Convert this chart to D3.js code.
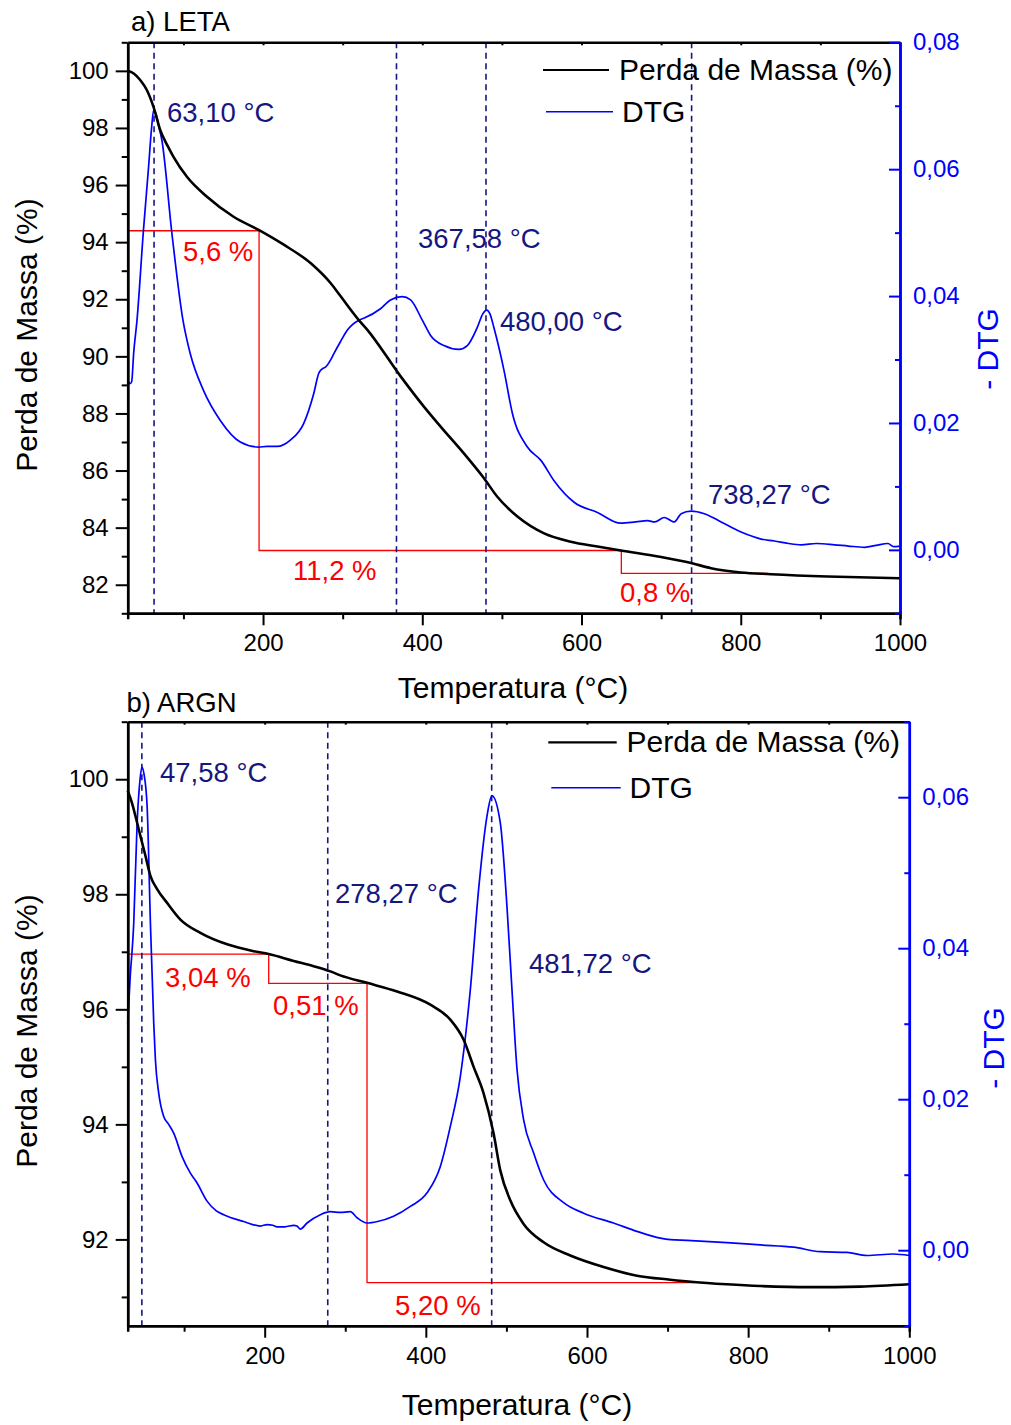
<!DOCTYPE html>
<html>
<head>
<meta charset="utf-8">
<script src="https://cdn.jsdelivr.net/npm/d3@7"></script>
<style>
  html, body { margin: 0; padding: 0; background: #fff; }
  svg { display: block; font-family: "Liberation Sans", Arial, Helvetica, sans-serif; }
</style>
</head>
<body>
<svg id="chart" width="1011" height="1425"></svg>
<script>
// ---------- shared temperature axis ----------
const tempDomain = [30, 1000];
const tempMajor = [200, 400, 600, 800, 1000];
const tempMinor = [100, 300, 500, 700, 900];
const tempTop = [100, 200, 300, 400, 500, 600, 700, 800, 900, 1000];

// ---------- a) LETA ----------
const letaMassDomain = [81, 101];
const letaMassMajor = [82, 84, 86, 88, 90, 92, 94, 96, 98, 100];
const letaMassMinor = [81, 83, 85, 87, 89, 91, 93, 95, 97, 99, 101];
const letaDtgDomain = [-0.01, 0.08];
const letaDtgMajor = [0, 0.02, 0.04, 0.06, 0.08];
const letaDtgMinor = [-0.01, 0.01, 0.03, 0.05, 0.07];

const letaTgT = [30, 38, 45.7, 54, 62.4, 70.8, 80, 87.5, 104.4, 129.6, 163, 195, 226, 260, 285, 297, 320, 331, 373, 402, 423, 452, 477.5, 494, 519.5, 553, 586.5, 620, 649.4, 700, 737.6, 762.7, 800, 838, 909, 1000];
const letaTgM = [100.0, 99.9, 99.68, 99.33, 98.74, 97.93, 97.38, 96.99, 96.29, 95.59, 94.89, 94.42, 93.91, 93.26, 92.56, 92.12, 91.28, 90.93, 89.29, 88.24, 87.54, 86.61, 85.73, 85.09, 84.39, 83.8, 83.51, 83.34, 83.2, 82.97, 82.76, 82.58, 82.43, 82.37, 82.29, 82.23];

const letaDtgT = [30, 33, 35, 37.5, 41.7, 49.8, 56, 60, 62.6, 66, 69, 72.9, 85.5, 99.4, 108.6, 125.3, 146.3, 171.4, 194.5, 205, 217.6, 234.3, 251, 263.6, 269.9, 274, 278.4, 284.7, 288.8, 297.2, 305.7, 320.3, 326.5, 347.5, 360.1, 374.8, 385.3, 400, 410.4, 427.2, 446, 456.6, 469.2, 476, 480.9, 485, 490, 502.6, 513.2, 532, 549, 565.5, 590.7, 620, 649.4, 668, 683, 692, 703.9, 712.4, 716.4, 725.1, 737.6, 754.2, 775.3, 800.4, 825.6, 842.3, 860, 875.8, 895, 917.8, 935, 955.5, 970, 984.9, 992, 1000];
const letaDtgD = [0.0267, 0.0262, 0.0265, 0.031, 0.0362, 0.0504, 0.06, 0.0665, 0.0693, 0.0685, 0.0668, 0.0646, 0.0499, 0.0362, 0.0309, 0.0251, 0.0204, 0.017, 0.0162, 0.0163, 0.0163, 0.0173, 0.0199, 0.0246, 0.0278, 0.0285, 0.0288, 0.0299, 0.0309, 0.0328, 0.0346, 0.0362, 0.0365, 0.038, 0.0394, 0.0399, 0.0394, 0.0362, 0.0338, 0.0322, 0.0316, 0.0322, 0.0351, 0.0372, 0.0378, 0.0372, 0.035, 0.0283, 0.0215, 0.0162, 0.0141, 0.0109, 0.0075, 0.0059, 0.0042, 0.0044, 0.0046, 0.0044, 0.0051, 0.0046, 0.0044, 0.0057, 0.0061, 0.0057, 0.0044, 0.0028, 0.0017, 0.0014, 0.001, 0.0008, 0.001, 0.0008, 0.0006, 0.0004, 0.0007, 0.001, 0.0005, 0.0006];

const letaPeaks = [63.10, 367.58, 480.00, 738.27];
const letaSteps = ["5,6", "11,2", "0,8"];
const letaStepT = [30, 195, 650, 834];

// ---------- b) ARGN ----------
const argnMassDomain = [90.5, 101];
const argnMassMajor = [92, 94, 96, 98, 100];
const argnMassMinor = [91, 93, 95, 97, 99, 101];
const argnDtgDomain = [-0.01, 0.07];
const argnDtgMajor = [0, 0.02, 0.04, 0.06];
const argnDtgMinor = [-0.01, 0.01, 0.03, 0.05, 0.07];

const argnTgT = [30, 35, 39.6, 45.8, 52, 58.2, 66.5, 78.9, 95.4, 120.2, 153.4, 186.4, 205, 236, 260.8, 281.5, 293.9, 327, 364.3, 405.6, 430.4, 446.9, 459.3, 471.7, 484.1, 492.4, 504.8, 521.3, 546.2, 579.3, 620.6, 662, 703.4, 732.3, 773.7, 815, 877, 939, 1000];
const argnTgM = [99.8, 99.6, 99.36, 99.01, 98.67, 98.32, 98.09, 97.85, 97.56, 97.33, 97.13, 97.01, 96.96, 96.84, 96.75, 96.66, 96.59, 96.46, 96.31, 96.08, 95.82, 95.47, 95.0, 94.54, 93.84, 93.2, 92.68, 92.27, 91.95, 91.72, 91.52, 91.37, 91.3, 91.26, 91.22, 91.19, 91.17, 91.18, 91.22];

const argnDtgT = [30, 33, 37.5, 41.7, 45, 47.6, 50, 54.1, 58.2, 62.3, 64.4, 68.5, 74.7, 80, 87.1, 97.5, 107.8, 116.1, 128.5, 140, 149.1, 174, 194.7, 203, 210, 215.4, 225, 236, 240, 244.3, 252.6, 269.1, 281.5, 293.9, 306.3, 314.6, 327, 340, 360, 380.8, 401.5, 418, 430.4, 442.8, 455.2, 465.5, 475.9, 482, 492.4, 500.7, 506.9, 513.2, 521.3, 533.7, 546.2, 571, 595.8, 633, 662, 691, 703.4, 724, 773.7, 815, 856.4, 889.4, 922.6, 947.4, 980.4, 1000];
const argnDtgD = [0.03, 0.036, 0.0433, 0.0566, 0.062, 0.064, 0.0632, 0.0588, 0.0433, 0.0301, 0.0252, 0.0208, 0.0177, 0.0168, 0.0155, 0.0124, 0.0102, 0.0089, 0.0065, 0.0052, 0.0047, 0.0038, 0.0032, 0.0034, 0.0033, 0.0031, 0.0031, 0.0033, 0.0032, 0.0028, 0.0036, 0.0047, 0.0051, 0.005, 0.0051, 0.0043, 0.0036, 0.0038, 0.0045, 0.0058, 0.0076, 0.0111, 0.0164, 0.023, 0.0345, 0.0478, 0.0575, 0.0602, 0.0566, 0.0455, 0.0345, 0.0239, 0.0173, 0.0129, 0.0093, 0.0063, 0.0049, 0.0036, 0.0025, 0.0016, 0.0014, 0.0013, 0.001, 0.0007, 0.0004, -0.0002, -0.0003, -0.0007, -0.0005, -0.0007];

const argnPeaks = [47.58, 278.27, 481.72];
const argnSteps = ["3,04", "0,51", "5,20"];
const argnStepT = [30, 205, 327, 734];

// ---------- styling ----------
const BLUE = "#0000ff";
const NAVY = "#16167f";
const RED = "#ff0000";
const FONT_TICK = 24;
const FONT_TITLE = 30;
const FONT_NOTE = 27.5;
const FONT_PANEL = 27.5;

const svg = d3.select("#chart");
const comma = (v, n) => v.toFixed(n).replace(".", ",");
const zip = (a, b) => a.map((v, i) => [v, b[i]]);

function drawPanel(o) {
  const x = d3.scaleLinear().domain(tempDomain).range([o.left, o.right]);
  const yM = d3.scaleLinear().domain(o.massDomain).range([o.bottom, o.top]);
  const yD = d3.scaleLinear().domain(o.dtgDomain).range([o.bottom, o.top]);
  const g = svg.append("g");

  // mass-loss steps (red), levels derived from the printed percentages
  const stepVals = o.steps.map(s => parseFloat(s.replace(",", ".")));
  const levels = [];
  let lvl = 100;
  stepVals.forEach(v => { lvl -= v; levels.push(lvl); });
  let p = d3.path();
  p.moveTo(x(o.stepT[0]), yM(levels[0]));
  for (let i = 0; i < levels.length; i++) {
    p.lineTo(x(o.stepT[i + 1]), yM(levels[i]));
    if (i + 1 < levels.length) p.lineTo(x(o.stepT[i + 1]), yM(levels[i + 1]));
  }
  g.append("path").attr("d", p.toString()).attr("fill", "none")
    .attr("stroke", RED).attr("stroke-width", 1.3);
  g.selectAll(".steplab").data(o.steps).join("text")
    .attr("x", (d, i) => o.stepLabelPos[i][0]).attr("y", (d, i) => o.stepLabelPos[i][1])
    .attr("fill", RED).attr("font-size", FONT_NOTE).text(d => d + " %");

  // peak markers
  g.selectAll(".peak").data(o.peaks).join("line")
    .attr("x1", d => x(d)).attr("x2", d => x(d))
    .attr("y1", o.top).attr("y2", o.bottom)
    .attr("stroke", NAVY).attr("stroke-width", 1.6).attr("stroke-dasharray", "6,4.5");
  g.selectAll(".peaklab").data(o.peaks).join("text")
    .attr("x", (d, i) => o.peakLabelPos[i][0]).attr("y", (d, i) => o.peakLabelPos[i][1])
    .attr("fill", NAVY).attr("font-size", FONT_NOTE).text(d => comma(d, 2) + " °C");

  // DTG curve
  const lineD = d3.line().x(d => x(d[0])).y(d => yD(d[1])).curve(d3.curveMonotoneX);
  g.append("path").attr("d", lineD(zip(o.dtgT, o.dtgD))).attr("fill", "none")
    .attr("stroke", BLUE).attr("stroke-width", 1.7).attr("stroke-linejoin", "round");

  // TG curve
  const lineM = d3.line().x(d => x(d[0])).y(d => yM(d[1])).curve(d3.curveMonotoneX);
  g.append("path").attr("d", lineM(zip(o.tgT, o.tgM))).attr("fill", "none")
    .attr("stroke", "#000").attr("stroke-width", 2.6).attr("stroke-linejoin", "round");

  // axes
  const styleAxis = (sel, color, width) => {
    sel.select(".domain").attr("stroke", color).attr("stroke-width", width);
    sel.selectAll(".tick line").attr("stroke", color).attr("stroke-width", 2);
    sel.selectAll(".tick text").attr("fill", color).attr("font-size", FONT_TICK)
      .attr("font-family", "Liberation Sans, Arial, sans-serif");
  };

  // top
  g.append("g").attr("transform", `translate(0,${o.top})`)
    .call(d3.axisTop(x).tickValues(tempTop).tickSizeInner(-3).tickSizeOuter(0).tickFormat(""))
    .call(s => styleAxis(s, "#000", 2.5));
  // bottom
  g.append("g").attr("transform", `translate(0,${o.bottom})`)
    .call(d3.axisBottom(x).tickValues(tempMinor).tickSize(6).tickFormat(""))
    .call(s => styleAxis(s, "#000", 2.5));
  g.append("g").attr("transform", `translate(0,${o.bottom})`)
    .call(d3.axisBottom(x).tickValues(tempMajor).tickSizeInner(12).tickSizeOuter(0).tickPadding(9).tickFormat(d3.format("d")))
    .call(s => styleAxis(s, "#000", 2.5));
  // left
  g.append("g").attr("transform", `translate(${o.left},0)`)
    .call(d3.axisLeft(yM).tickValues(o.massMinor).tickSize(6).tickSizeOuter(0).tickFormat(""))
    .call(s => styleAxis(s, "#000", 2.5));
  g.append("g").attr("transform", `translate(${o.left},0)`)
    .call(d3.axisLeft(yM).tickValues(o.massMajor).tickSizeInner(12).tickSizeOuter(0).tickPadding(7).tickFormat(d3.format("d")))
    .call(s => styleAxis(s, "#000", 2.5));
  // right (DTG)
  g.append("g").attr("transform", `translate(${o.right},0)`)
    .call(d3.axisRight(yD).tickValues(o.dtgMinor).tickSizeInner(-5).tickSizeOuter(0).tickFormat(""))
    .call(s => styleAxis(s, BLUE, 2.5));
  g.append("g").attr("transform", `translate(${o.right},0)`)
    .call(d3.axisRight(yD).tickValues(o.dtgMajor).tickSizeInner(-11).tickSizeOuter(0).tickPadding(13).tickFormat(d => comma(d, 2)))
    .call(s => styleAxis(s, BLUE, 2.5));

  // titles
  g.append("text").attr("x", o.panelLabelPos[0]).attr("y", o.panelLabelPos[1])
    .attr("font-size", FONT_PANEL).attr("fill", "#000").text(o.name);
  g.append("text").attr("x", o.xTitlePos[0]).attr("y", o.xTitlePos[1])
    .attr("text-anchor", "middle").attr("font-size", FONT_TITLE).attr("fill", "#000")
    .text("Temperatura (°C)");
  g.append("text").attr("transform", `translate(${o.yTitlePos[0]},${o.yTitlePos[1]}) rotate(-90)`)
    .attr("text-anchor", "middle").attr("font-size", FONT_TITLE).attr("fill", "#000")
    .text("Perda de Massa (%)");
  g.append("text").attr("transform", `translate(${o.y2TitlePos[0]},${o.y2TitlePos[1]}) rotate(-90)`)
    .attr("text-anchor", "middle").attr("font-size", FONT_TITLE).attr("fill", BLUE)
    .text("- DTG");

  // legend
  const lg = o.legend;
  g.append("line").attr("x1", lg.x1).attr("x2", lg.x2).attr("y1", lg.y1).attr("y2", lg.y1)
    .attr("stroke", "#000").attr("stroke-width", 2.2);
  g.append("text").attr("x", lg.tx).attr("y", lg.y1 + 10).attr("font-size", FONT_TITLE)
    .attr("fill", "#000").text("Perda de Massa (%)");
  g.append("line").attr("x1", lg.x1 + 3).attr("x2", lg.x2 + 4).attr("y1", lg.y2).attr("y2", lg.y2)
    .attr("stroke", BLUE).attr("stroke-width", 1.6);
  g.append("text").attr("x", lg.tx + 3).attr("y", lg.y2 + 10.5).attr("font-size", FONT_TITLE)
    .attr("fill", "#000").text("DTG");
}

drawPanel({
  name: "a) LETA",
  left: 127.7, right: 900, top: 42.3, bottom: 613.3,
  massDomain: letaMassDomain, massMajor: letaMassMajor, massMinor: letaMassMinor,
  dtgDomain: letaDtgDomain, dtgMajor: letaDtgMajor, dtgMinor: letaDtgMinor,
  tgT: letaTgT, tgM: letaTgM, dtgT: letaDtgT, dtgD: letaDtgD,
  peaks: letaPeaks, peakLabelPos: [[167, 122], [418, 248], [500, 331], [708, 504]],
  steps: letaSteps, stepT: letaStepT, stepLabelPos: [[183, 261], [293, 580], [620, 602]],
  panelLabelPos: [131, 31], xTitlePos: [513, 698], yTitlePos: [37, 335], y2TitlePos: [998, 349],
  legend: { x1: 543, x2: 609, y1: 70, y2: 111.7, tx: 619 }
});

drawPanel({
  name: "b) ARGN",
  left: 127.7, right: 909.3, top: 721.7, bottom: 1325.7,
  massDomain: argnMassDomain, massMajor: argnMassMajor, massMinor: argnMassMinor,
  dtgDomain: argnDtgDomain, dtgMajor: argnDtgMajor, dtgMinor: argnDtgMinor,
  tgT: argnTgT, tgM: argnTgM, dtgT: argnDtgT, dtgD: argnDtgD,
  peaks: argnPeaks, peakLabelPos: [[160, 782], [335, 903], [529, 973]],
  steps: argnSteps, stepT: argnStepT, stepLabelPos: [[165, 987], [273, 1015], [395, 1315]],
  panelLabelPos: [126.5, 712], xTitlePos: [517, 1415], yTitlePos: [37, 1031], y2TitlePos: [1004, 1048],
  legend: { x1: 548.3, x2: 616.7, y1: 742.3, y2: 787.7, tx: 626.5 }
});
</script>
</body>
</html>
